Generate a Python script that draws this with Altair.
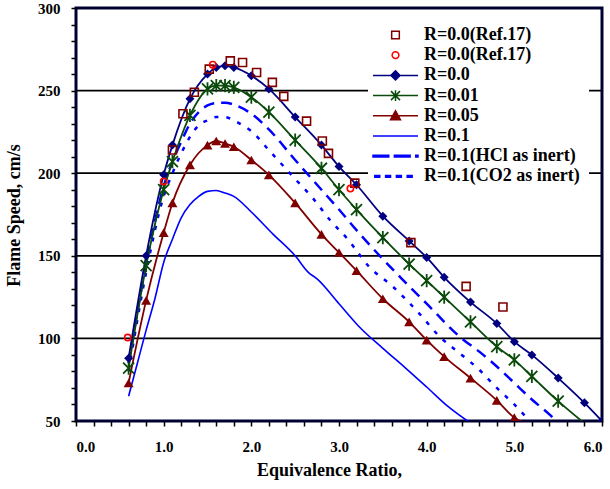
import altair as alt
import pandas as pd

# ---------------- data ----------------
X_R00 = [0.6, 0.8, 1.0, 1.1, 1.3, 1.5, 1.6, 1.7, 1.8, 2.0, 2.2, 2.5, 2.8, 3.0, 3.2, 3.5, 3.8, 4.0, 4.2, 4.5, 4.8, 5.0, 5.2, 5.5, 5.8, 6.0]
Y_R00 = [88, 150, 199, 217, 245, 260, 264, 265, 264, 259, 251, 234, 217, 204, 193, 174, 159, 149, 137, 122, 109, 98, 90, 76, 61, 50]

X_R001 = [0.6, 0.8, 1.0, 1.1, 1.3, 1.5, 1.6, 1.7, 1.8, 2.0, 2.2, 2.5, 2.8, 3.0, 3.2, 3.5, 3.8, 4.0, 4.2, 4.5, 4.8, 5.0, 5.2, 5.5, 5.8]
Y_R001 = [82, 144, 190, 207, 235, 251, 253, 253, 252, 246, 237, 220, 203, 190, 178, 161, 145, 135, 125, 110, 95, 87, 77, 62, 48.6]

X_R005 = [0.6, 0.8, 1.0, 1.1, 1.3, 1.5, 1.6, 1.7, 1.8, 2.0, 2.2, 2.5, 2.8, 3.0, 3.2, 3.5, 3.8, 4.0, 4.2, 4.5, 4.8, 5.0, 5.2]
Y_R005 = [73, 123, 164, 182, 205, 217, 219.5, 218, 216, 208, 199, 182, 163, 152, 141, 124, 110, 99, 89, 76, 62.5, 52, 47.5]

X_R01 = [0.6, 0.7, 0.8, 0.9, 1.0, 1.1, 1.2, 1.3, 1.4, 1.5, 1.6, 1.7, 1.8, 2.0, 2.25, 2.5, 2.65, 2.75, 3.0, 3.25, 3.5, 3.75, 4.0, 4.25, 4.55]
Y_R01 = [65, 85, 105, 124, 146, 160, 173, 181, 186, 189, 189.5, 188, 186, 176.5, 163, 150, 140, 136, 121, 106, 94, 82.5, 70.6, 58.5, 47]

X_HCL = [0.6, 0.8, 1.0, 1.1, 1.2, 1.3, 1.4, 1.5, 1.6, 1.7, 1.8, 2.0, 2.2, 2.5, 2.8, 3.0, 3.2, 3.5, 3.7, 4.0, 4.4, 4.6, 4.8, 5.0, 5.2, 5.4, 5.5]
Y_HCL = [85, 145, 192, 207, 219, 230, 237, 241, 242.5, 242.7, 241.5, 236, 226.5, 208, 190, 178, 165.5, 148, 137, 121, 100, 92, 83, 73, 63, 54, 49]

X_CO2 = [0.6, 0.8, 1.0, 1.1, 1.2, 1.3, 1.4, 1.5, 1.6, 1.7, 1.8, 1.9, 2.0, 2.2, 2.5, 2.7, 2.9, 3.1, 3.35, 3.6, 3.9, 4.15, 4.4, 4.6, 4.8, 5.0, 5.2]
Y_CO2 = [80, 140, 186, 200, 212, 222, 229, 232, 234, 234, 232, 229, 225.5, 214, 196.5, 185, 171.5, 160, 143, 132, 116, 101, 90, 81, 70, 60, 48.5]

X_REF_SQ = [1.1, 1.22, 1.35, 1.52, 1.76, 1.9, 2.06, 2.24, 2.37, 2.63, 2.81, 2.88, 3.18, 3.82, 4.45, 4.87]
Y_REF_SQ = [214, 236, 249, 263, 268, 267, 261, 255, 246.5, 231.5, 219.5, 212, 194, 158, 131.5, 119]

X_REF_CI = [0.59, 1.0, 1.56, 3.13]
Y_REF_CI = [100.5, 195, 265.7, 190.7]

GRID_Y = [100, 150, 200, 250]
X_TICKS = [0.0, 0.2, 0.4, 0.6, 0.8, 1.0, 1.2, 1.4, 1.6, 1.8, 2.0, 2.2, 2.4, 2.6, 2.8, 3.0,
           3.2, 3.4, 3.6, 3.8, 4.0, 4.2, 4.4, 4.6, 4.8, 5.0, 5.2, 5.4, 5.6, 5.8, 6.0]
Y_TICKS = [50, 60, 70, 80, 90, 100, 110, 120, 130, 140, 150, 160, 170, 180, 190, 200,
           210, 220, 230, 240, 250, 260, 270, 280, 290, 300]

LEGEND_LABELS = ["R=0.0(Ref.17)", "R=0.0(Ref.17) ", "R=0.0", "R=0.01", "R=0.05", "R=0.1",
                 "R=0.1(HCl as inert)", "R=0.1(CO2  as inert)"]

# ---------------- styles ----------------
NAVY = "#000080"
GREEN = "#0a4a0a"
DRED = "#800000"
RED = "#ff0000"
BLUE = "#0000ff"
FONT = "Liberation Serif"

ASTERISK = "M-1,-1L1,1M-1,1L1,-1M0,-1.2L0,1.2"

LINE = "M-1,0H1"
LEG_SHAPES = [
    "M-0.17,-0.17H0.17V0.17H-0.17Z",
    "M0.15,0A0.15,0.15,0,1,1,-0.15,0A0.15,0.15,0,1,1,0.15,0Z",
    LINE + "M-0.2,0L0,-0.2L0.2,0L0,0.2Z",
    LINE + "M-0.2,-0.2L0.2,0.2M-0.2,0.2L0.2,-0.2M0,-0.24V0.24",
    LINE + "M-0.22,0.17L0,-0.22L0.22,0.17Z",
    LINE,
    "M-1,-0.04H-0.3V0.04H-1ZM-0.05,-0.04H0.65V0.04H-0.05ZM0.9,-0.04H1V0.04H0.9Z",
    "M-0.92,-0.04H-0.7V0.04H-0.92ZM-0.44,-0.04H-0.22V0.04H-0.44Z"
    "M0.04,-0.04H0.26V0.04H0.04ZM0.52,-0.04H0.74V0.04H0.52Z",
]
LEG_FILLS = ["transparent", "transparent", NAVY, "transparent", DRED, "transparent", BLUE, BLUE]
LEG_STROKES = [DRED, RED, NAVY, GREEN, DRED, BLUE, BLUE, BLUE]

# ---------------- table ----------------
frames = []
for name, xs, ys in [("R00", X_R00, Y_R00), ("R001", X_R001, Y_R001), ("R005", X_R005, Y_R005),
                     ("R01", X_R01, Y_R01), ("HCL", X_HCL, Y_HCL), ("CO2", X_CO2, Y_CO2),
                     ("SQ", X_REF_SQ, Y_REF_SQ), ("CI", X_REF_CI, Y_REF_CI)]:
    frames.append(pd.DataFrame({"x": xs, "y": ys, "series": name}))
frames.append(pd.DataFrame({"x": [None] * len(GRID_Y), "y": GRID_Y, "series": "grid"}))
df = pd.concat(frames, ignore_index=True)

legend_df = pd.DataFrame({"x": [-1.0] * len(LEGEND_LABELS), "y": [0.0] * len(LEGEND_LABELS),
                          "label": LEGEND_LABELS})

x_axis = alt.Axis(values=X_TICKS,
                  labelExpr="abs(datum.value - round(datum.value)) < 0.001 ? format(datum.value, '.1f') : ''",
                  title="Equivalence Ratio,", titleX=253, titleY=49, titleBaseline="middle",
                  titleAlign="center", labelPadding=13)
y_axis = alt.Axis(values=Y_TICKS, labelExpr="datum.value % 50 === 0 ? datum.label : ''",
                  title="Flame Speed, cm/s", titleX=-62, titleY=207, titleBaseline="middle",
                  titleAlign="center", titleAngle=270, labelPadding=11)

X = alt.X("x:Q", scale=alt.Scale(domain=[0, 6], nice=False, zero=False), axis=x_axis)
Y = alt.Y("y:Q", scale=alt.Scale(domain=[50, 300], nice=False, zero=False), axis=y_axis)

base = alt.Chart(df)


def sel(name):
    return base.transform_filter(alt.datum.series == name)


def pts(name):
    return sel(name).transform_filter(alt.datum.y >= 49.5)


grid = sel("grid").mark_rule(color="black", strokeWidth=1.8).encode(y=Y)


def line(name, color, width, dash=None):
    kw = dict(color=color, strokeWidth=width, interpolate="monotone", clip=True)
    if dash:
        kw["strokeDash"] = dash
    return sel(name).mark_line(**kw).encode(x=X, y=Y)


layers = [
    grid,
    line("R01", BLUE, 1.6),
    line("CO2", BLUE, 2.5, [4, 8]),
    line("HCL", BLUE, 2.5, [11, 7]),
    line("R005", DRED, 1.8),
    line("R001", GREEN, 1.8),
    line("R00", NAVY, 1.8),
    pts("R005").mark_point(shape="triangle-up", filled=True, size=100, color=DRED, opacity=1, clip=True).encode(x=X, y=Y),
    pts("R001").mark_point(shape=ASTERISK, filled=False, size=121, strokeWidth=1.8, color=GREEN, opacity=1, clip=True).encode(x=X, y=Y),
    pts("R00").mark_point(shape="diamond", filled=True, size=81, color=NAVY, opacity=1, clip=True).encode(x=X, y=Y),
    sel("SQ").mark_point(shape="square", filled=False, size=64, strokeWidth=1.6, color=DRED, opacity=1, clip=True).encode(x=X, y=Y),
    sel("CI").mark_point(shape="circle", filled=False, size=40, strokeWidth=1.6, color=RED, opacity=1, clip=True).encode(x=X, y=Y),
]

LEG = alt.Legend(title=None, orient="none", legendX=292, legendY=13, fillColor="white", padding=4,
                 symbolSize=2025, clipHeight=20, rowPadding=0.2, labelFont=FONT, labelFontSize=18,
                 labelFontWeight="bold", labelColor="black", labelLimit=300, labelOffset=5,
                 symbolStrokeWidth=1.5)

dummy = alt.Chart(legend_df).mark_point(opacity=1, strokeWidth=1.5, clip=True).encode(
    x=X, y=Y,
    fill=alt.Fill("label:N", scale=alt.Scale(domain=LEGEND_LABELS, range=LEG_FILLS), legend=LEG),
    stroke=alt.Stroke("label:N", scale=alt.Scale(domain=LEGEND_LABELS, range=LEG_STROKES), legend=LEG),
    shape=alt.Shape("label:N", scale=alt.Scale(domain=LEGEND_LABELS, range=LEG_SHAPES), legend=LEG),
)
layers.append(dummy)

chart = alt.layer(*layers).properties(
    width=526, height=413,
    autosize=alt.AutoSizeParams(type="none"),
    padding={"left": 76, "top": 8, "right": 8, "bottom": 68},
    background="white",
).configure_view(
    stroke="#000033", strokeWidth=3
).configure_axis(
    domain=False, grid=False, ticks=True, tickSize=5, tickWidth=1.5, tickColor="black",
    labelFont=FONT, labelFontSize=15, labelFontWeight="bold", labelColor="black",
    titleFont=FONT, titleFontSize=18, titleFontWeight="bold", titleColor="black",
    labelOverlap=False,
)

chart.save("out.html", embed_options={"renderer": "svg", "actions": False})
